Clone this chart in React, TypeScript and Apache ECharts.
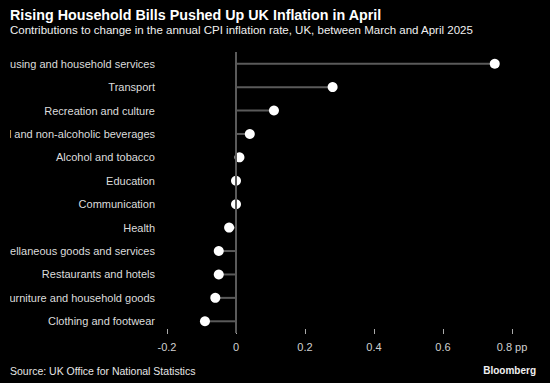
import React, { useEffect, useRef } from "react";
import * as echarts from "echarts";

const categories = [
  "Housing and household services",
  "Transport",
  "Recreation and culture",
  "Food and non-alcoholic beverages",
  "Alcohol and tobacco",
  "Education",
  "Communication",
  "Health",
  "Miscellaneous goods and services",
  "Restaurants and hotels",
  "Furniture and household goods",
  "Clothing and footwear",
];
const contributions = [0.75, 0.28, 0.11, 0.04, 0.01, 0.0, 0.0, -0.02, -0.05, -0.05, -0.06, -0.09];
const xTicks = [-0.2, 0, 0.2, 0.4, 0.6, 0.8];

const FONT = "Tahoma, 'Liberation Sans', Arial, sans-serif";

export default function App() {
  const ref = useRef<HTMLDivElement>(null);
  useEffect(() => {
    document.body.style.margin = "0";
    const chart = echarts.init(ref.current!, undefined, { renderer: "svg" });
    chart.setOption({
      animation: false,
      backgroundColor: "#000000",
      textStyle: { fontFamily: FONT },
      title: [
        {
          text: "Rising Household Bills Pushed Up UK Inflation in April",
          left: 10,
          top: 8,
          padding: 0,
          textStyle: { color: "#ffffff", fontSize: 14.3, fontWeight: "bold", fontFamily: FONT },
        },
        {
          text: "Contributions to change in the annual CPI inflation rate, UK, between March and April 2025",
          left: 10,
          top: 24,
          padding: 0,
          textStyle: { color: "#f0f0f0", fontSize: 11.5, fontWeight: "normal", fontFamily: FONT },
        },
        {
          text: "Source: UK Office for National Statistics",
          left: 10,
          top: 365,
          padding: 0,
          textStyle: { color: "#e6e6e6", fontSize: 10.5, fontWeight: "normal", fontFamily: FONT },
        },
        {
          text: "Bloomberg",
          right: 14,
          top: 365,
          padding: 0,
          textStyle: { color: "#f0f0f0", fontSize: 10, fontWeight: "bold", fontFamily: FONT },
        },
      ],
      grid: {
        left: 167,
        right: 38,
        top: 52,
        bottom: 50,
        containLabel: false,
        outerBoundsMode: "none",
      },
      xAxis: {
        type: "value",
        min: -0.2,
        max: 0.8,
        interval: 0.2,
        offset: -4,
        splitLine: { show: false },
        axisLine: { show: false },
        axisTick: { show: true, length: 5, lineStyle: { color: "#aaaaaa", width: 1 } },
        axisLabel: {
          color: "#d0d0d0",
          fontSize: 11,
          margin: 12,
          fontFamily: FONT,
          formatter: (v: number) => {
            const t = xTicks.find((x) => Math.abs(x - v) < 1e-9);
            if (t === undefined) return "";
            const s = t === 0 ? "0" : String(t);
            return t === 0.8 ? s + " pp" : s;
          },
        },
      },
      yAxis: {
        type: "category",
        data: categories,
        inverse: true,
        axisLine: { show: false },
        axisTick: { show: false },
        splitLine: { show: false },
        axisLabel: { color: "#dcdcdc", fontSize: 11, margin: 12, fontFamily: FONT },
      },
      series: [
        {
          type: "bar",
          data: contributions,
          barWidth: 2,
          itemStyle: { color: "#5a5a5a" },
          z: 1,
          markLine: {
            silent: true,
            symbol: "none",
            label: { show: false },
            lineStyle: { color: "#5a5a5a", width: 2, type: "solid" },
            data: [{ xAxis: 0 }],
          },
        },
        {
          type: "scatter",
          data: contributions,
          symbol: "circle",
          symbolSize: 10,
          itemStyle: { color: "#ffffff", opacity: 1 },
          z: 3,
        },
      ],
      graphic: [
        {
          type: "rect",
          left: 0,
          top: 48,
          shape: { width: 10, height: 290 },
          style: { fill: "#000000" },
          z: 100,
        },
      ],
    });
    return () => chart.dispose();
  }, []);
  return (
    <div
      ref={ref}
      style={{ position: "fixed", left: 0, top: 0, width: 550, height: 383, background: "#000" }}
    />
  );
}
